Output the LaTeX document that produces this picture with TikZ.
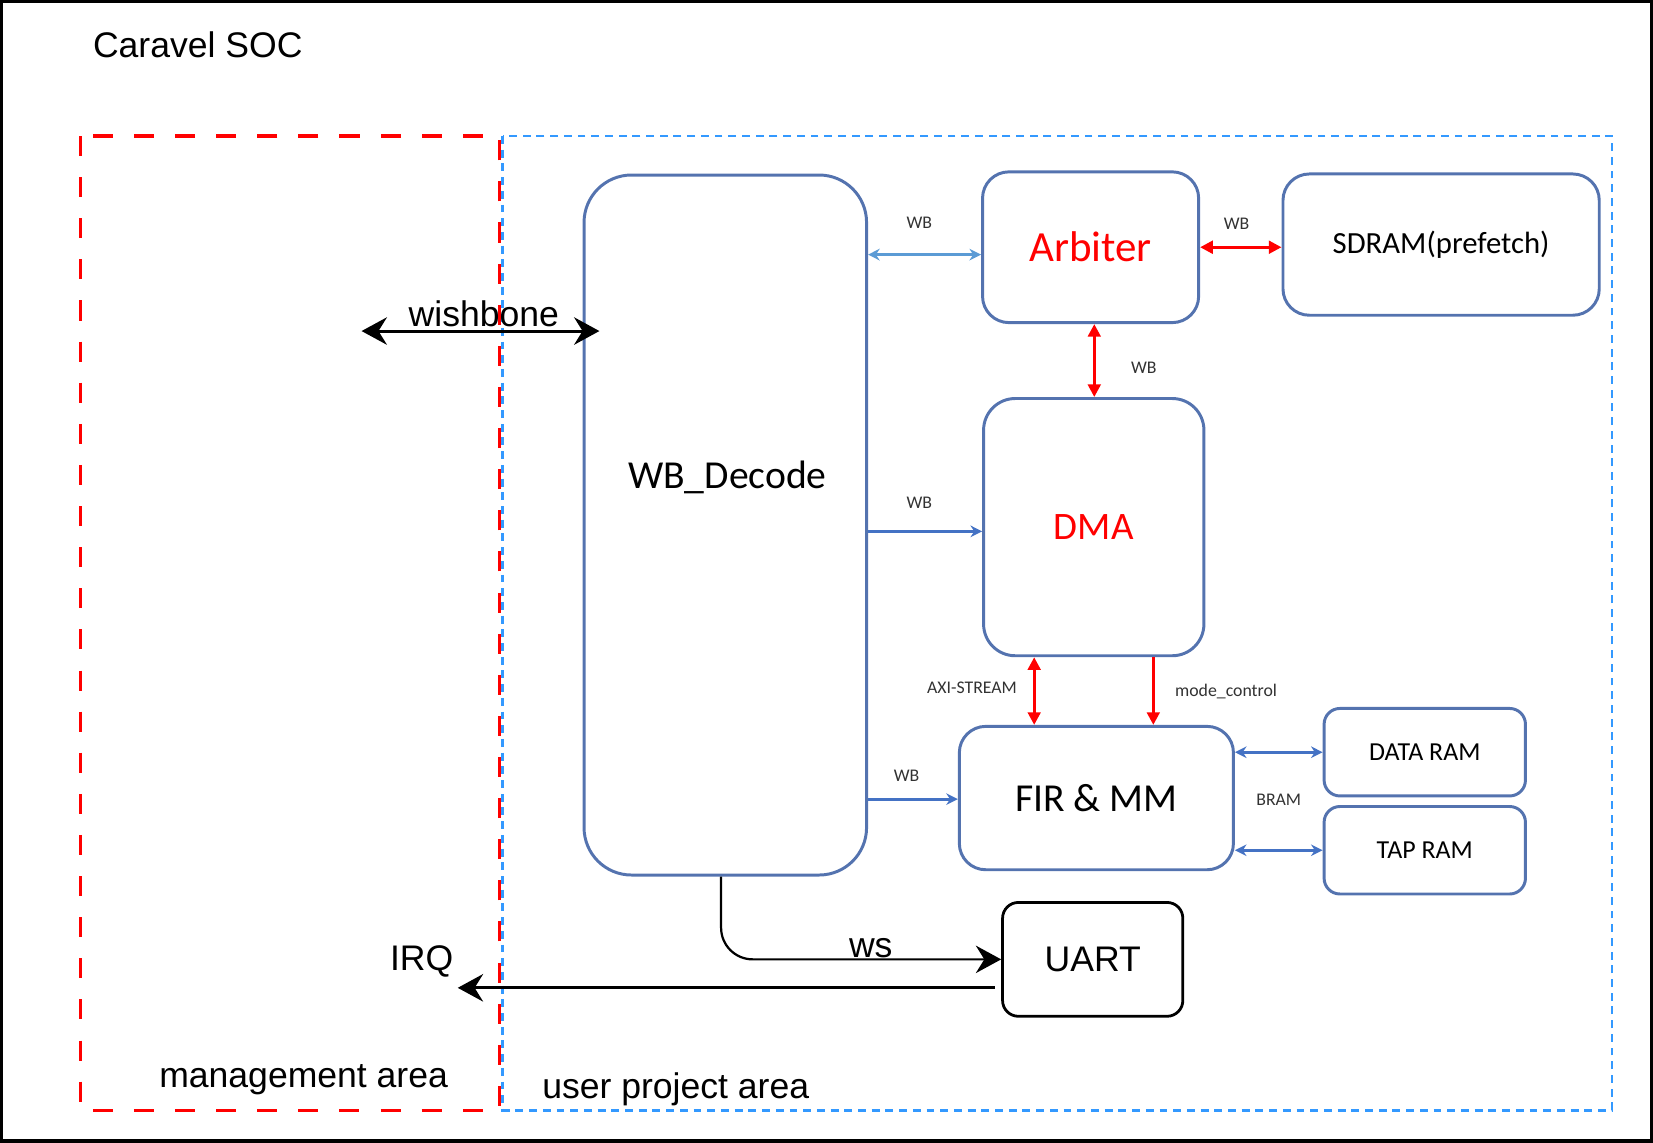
\documentclass[tikz,border=0pt]{standalone}
\usepackage{fontspec}
\setmainfont{Liberation Sans}
\newfontfamily\calib{Carlito}
\usetikzlibrary{arrows.meta,positioning,calc}
\definecolor{boxblue}{RGB}{84,115,175}
\definecolor{linkblue}{RGB}{68,114,196}
\definecolor{lightlink}{RGB}{91,155,213}
\definecolor{userblue}{RGB}{51,153,255}
\definecolor{tagtext}{RGB}{50,50,50}
\tikzset{
  blk/.style={rectangle, rounded corners=0.25cm, draw=boxblue, line width=0.8pt,
    inner sep=0pt, font=\calib\fontsize{10.7pt}{12pt}\selectfont},
  tag/.style={font=\calib\fontsize{4.8pt}{5.5pt}\selectfont, text=tagtext, inner sep=1pt},
  plain/.style={font=\fontsize{9.6pt}{11pt}\selectfont, inner sep=1pt},
  blink/.style={-{Stealth[length=0.11cm, width=0.11cm]}, line width=0.8pt, draw=linkblue},
  rlink/.style={-{Triangle[length=0.12cm, width=0.12cm]}, line width=0.8pt, draw=red},
  bigarr/.style={-{Stealth[length=0.24cm, width=0.26cm, inset=0.08cm]}, line width=0.8pt, draw=black},
}
\begin{document}
\begin{tikzpicture}
  \useasboundingbox (0,0) rectangle (15.68,-10.84);
  % outer frame
  \draw[black, line width=0.032cm] (0.016,-0.016) rectangle (15.664,-10.824);
  \node[plain, anchor=west] (soc) at (0.84,-0.42) {Caravel SOC};
  % areas
  \draw[red, line width=0.85pt, dash pattern=on 0.19cm off 0.2cm] (0.76,-1.29) rectangle (4.74,-10.53);
  \draw[userblue, line width=0.75pt, dash pattern=on 0.075cm off 0.055cm] (4.77,-1.29) rectangle (15.29,-10.53);
  \node[plain] (mgmt) at (2.88,-10.24) {management area};
  \node[plain] (user) at (6.41,-10.33) {user project area};
  % blocks
  \node[blk, rounded corners=0.45cm, minimum width=2.68cm, minimum height=6.64cm] (dec) at (6.88,-4.98) {};
  \node[font=\calib\fontsize{10.7pt}{12pt}\selectfont, inner sep=0pt] (dectext) at (6.90,-4.53) {WB\_Decode};
  \node[blk, minimum width=2.05cm, minimum height=1.43cm, text=red, font=\calib\fontsize{11.6pt}{13pt}\selectfont] (arb) at (10.345,-2.345) {Arbiter};
  \node[blk, minimum width=3.00cm, minimum height=1.34cm, font=\calib\fontsize{8.3pt}{10pt}\selectfont] (sdram) at (13.67,-2.32) {SDRAM(prefetch)};
  \node[blk, rounded corners=0.3cm, minimum width=2.09cm, minimum height=2.44cm, text=red, font=\calib\fontsize{10.5pt}{12pt}\selectfont] (dma) at (10.375,-5.00) {DMA};
  \node[blk, minimum width=2.60cm, minimum height=1.36cm] (fir) at (10.40,-7.57) {FIR \& MM};
  \node[blk, rounded corners=0.15cm, minimum width=1.91cm, minimum height=0.83cm, font=\calib\fontsize{7pt}{8pt}\selectfont] (dram) at (13.515,-7.135) {DATA RAM};
  \node[blk, rounded corners=0.15cm, minimum width=1.91cm, minimum height=0.83cm, font=\calib\fontsize{7pt}{8pt}\selectfont] (tram) at (13.515,-8.065) {TAP RAM};
  \node[rectangle, rounded corners=0.15cm, draw=black, line width=0.75pt, minimum width=1.71cm,
    minimum height=1.08cm, plain] (uart) at (10.365,-9.10) {UART};
  % bus labels
  \node[tag] (wba) at (8.72,-2.11) {WB};
  \node[tag] (wbb) at (11.73,-2.12) {WB};
  \node[tag] (wbc) at (10.85,-3.49) {WB};
  \node[tag] (wbd) at (8.72,-4.77) {WB};
  \node[tag] (axis) at (9.22,-6.52) {AXI-STREAM};
  \node[tag] (mode) at (11.63,-6.56) {mode\_control};
  \node[tag] (wbe) at (8.60,-7.36) {WB};
  \node[tag] (bram) at (12.13,-7.59) {BRAM};
  \node[plain] (wish) at (4.59,-2.98) {wishbone};
  \node[plain] (irq) at (4.00,-9.12) {IRQ};
  \node[plain] (ws) at (8.26,-8.99) {ws};
  % links
  \draw[blink, draw=lightlink, {Stealth[length=0.11cm, width=0.11cm]}-{Stealth[length=0.11cm, width=0.11cm]}]
    ([yshift=-0.07cm]arb.west -| dec.east) -- ([yshift=-0.07cm]arb.west);
  \draw[rlink, {Triangle[length=0.12cm, width=0.12cm]}-{Triangle[length=0.12cm, width=0.12cm]}]
    (arb.east) -- (arb.east -| sdram.west);
  \draw[rlink, {Triangle[length=0.12cm, width=0.12cm]}-{Triangle[length=0.12cm, width=0.12cm]}]
    ([xshift=0.035cm]arb.south) -- ([xshift=0.035cm]arb.south |- dma.north);
  \draw[blink] ([yshift=-0.04cm]dma.west -| dec.east) -- ([yshift=-0.04cm]dma.west);
  \draw[rlink, {Triangle[length=0.12cm, width=0.12cm]}-{Triangle[length=0.12cm, width=0.12cm]}]
    ([xshift=-0.565cm]dma.south) -- ([xshift=-0.565cm]dma.south |- fir.north);
  \draw[rlink] ([xshift=0.565cm]dma.south) -- ([xshift=0.565cm]dma.south |- fir.north);
  \draw[blink] ([yshift=-0.01cm]fir.west -| dec.east) -- ([yshift=-0.01cm]fir.west);
  \draw[blink, {Stealth[length=0.11cm, width=0.11cm]}-{Stealth[length=0.11cm, width=0.11cm]}]
    (dram.west -| fir.east) -- (dram.west);
  \draw[blink, {Stealth[length=0.11cm, width=0.11cm]}-{Stealth[length=0.11cm, width=0.11cm]}]
    (tram.west -| fir.east) -- (tram.west);
  % wishbone, ws and IRQ
  \coordinate (wbl) at (3.43,-3.14);
  \draw[bigarr, {Stealth[length=0.24cm, width=0.26cm, inset=0.08cm]}-{Stealth[length=0.24cm, width=0.26cm, inset=0.08cm]}]
    (wbl) -- ([xshift=0.16cm]wbl -| dec.west);
  \draw[bigarr, line width=0.6pt, rounded corners=0.3cm] ([xshift=-0.04cm]dec.south) |- (uart.west);
  \draw[bigarr] ([shift={(-0.06cm,-0.27cm)}]uart.west) -- ([yshift=-0.27cm]uart.west -| irq.east);
\end{tikzpicture}
\end{document}
